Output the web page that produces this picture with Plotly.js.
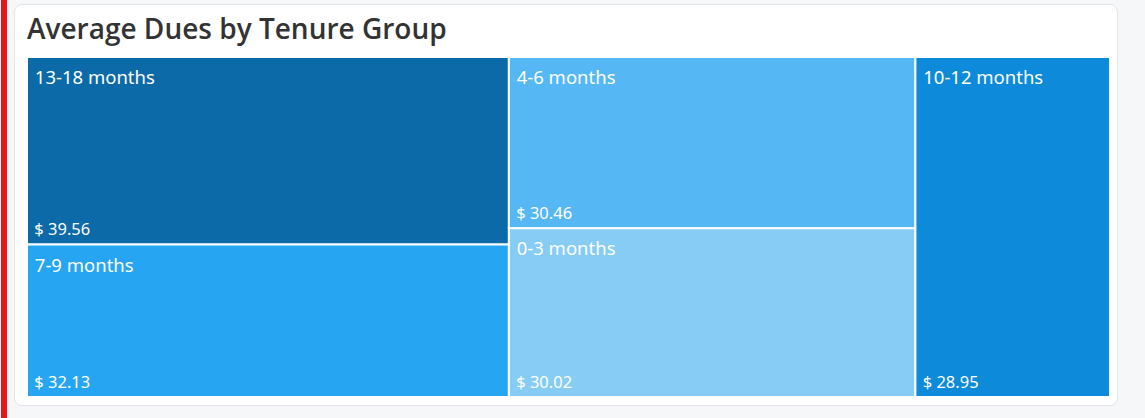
<!DOCTYPE html>
<html>
<head>
<meta charset="utf-8">
<script src="https://cdn.plot.ly/plotly-3.0.1.min.js"></script>
<style>
  html, body { margin: 0; padding: 0; width: 1145px; height: 418px; background: #f6f7f9; overflow: hidden; }
  #redbar { position: absolute; left: 1px; top: 0; width: 6px; height: 418px; background: #e8161b; }
  #card { position: absolute; left: 14px; top: 4px; width: 1102px; height: 400px; background: #ffffff; border: 1px solid #e4e5e8; border-radius: 8px; }
  #chart { position: absolute; left: 0; top: 0; width: 1145px; height: 418px; }
</style>
</head>
<body>
<div id="redbar"></div>
<div id="card"></div>
<div id="chart"></div>
<script>
const tenureGroups = ["13-18 months", "7-9 months", "4-6 months", "0-3 months", "10-12 months"];
const averageDues = [39.56, 32.13, 30.46, 30.02, 28.95];
const tileColors = ["#0b6aa7", "#26a5f3", "#55b7f4", "#87ccf5", "#0d8ada"];
const parentsList = tenureGroups.map(() => "");

const fontFamily = "'Noto Sans', 'Open Sans', sans-serif";
const NB = "\u00a0";

const labelTrace = {
  type: "treemap",
  labels: tenureGroups,
  parents: parentsList,
  values: averageDues,
  sort: true,
  tiling: { packing: "squarify", squarifyratio: 1.618, pad: 0 },
  marker: { colors: tileColors, line: { color: "#ffffff", width: 2 }, pad: { t: 0, l: 0, r: 0, b: 0 } },
  pathbar: { visible: false },
  texttemplate: NB + "<br><span style='font-size:18.5px'>" + NB + "%{label}</span>",
  textposition: "top left",
  textfont: { family: fontFamily, size: 10, color: "#ffffff" },
  hoverinfo: "label+value"
};

const valueTrace = {
  type: "treemap",
  labels: tenureGroups,
  parents: parentsList,
  values: averageDues,
  sort: true,
  tiling: { packing: "squarify", squarifyratio: 1.618, pad: 0 },
  marker: { colors: tenureGroups.map(() => "rgba(0,0,0,0)"), line: { color: "rgba(0,0,0,0)", width: 2 }, pad: { t: 0, l: 0, r: 0, b: 0 } },
  pathbar: { visible: false },
  texttemplate: "<span style='font-size:16.5px'>" + NB + "$ %{value:.2f}</span><br>" + NB,
  textposition: "bottom left",
  textfont: { family: fontFamily, size: 4, color: "#ffffff" },
  hoverinfo: "skip"
};

const layout = {
  width: 1145,
  height: 418,
  margin: { l: 27, r: 35, t: 57, b: 21, pad: 0 },
  paper_bgcolor: "rgba(0,0,0,0)",
  plot_bgcolor: "rgba(0,0,0,0)",
  title: {
    text: "Average Dues by Tenure Group",
    font: { family: "'Open Sans', 'Noto Sans', sans-serif", size: 28, weight: 600, color: "#333333" },
    xref: "container", yref: "container",
    x: 27 / 1145, xanchor: "left",
    y: 1 - 29 / 418, yanchor: "middle"
  },
  showlegend: false
};

Plotly.newPlot("chart", [labelTrace, valueTrace], layout, { displayModeBar: false, staticPlot: true });
</script>
</body>
</html>
